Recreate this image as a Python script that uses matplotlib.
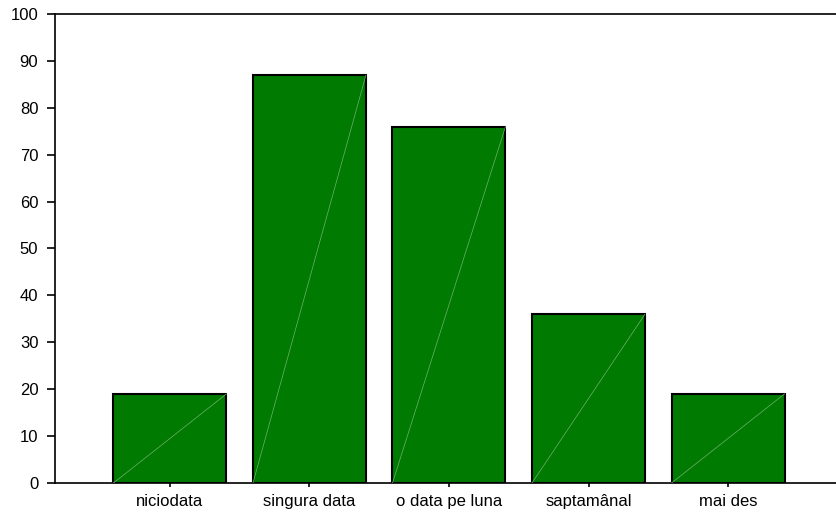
import matplotlib.pyplot as plt
import numpy as np

categories = ["niciodata", "singura data", "o data pe luna", "saptamânal", "mai des"]
values = [19, 87, 76, 36, 19]

plt.rcParams['font.family'] = ['Liberation Sans', 'DejaVu Sans']

fig = plt.figure(figsize=(8.36, 5.13), dpi=100)
ax = fig.add_axes([0.0658, 0.0585, 0.9342, 0.9142])

x = np.arange(len(categories))
width = 0.81
bars = ax.bar(x, values, width=width, color='#007a00', edgecolor='black', linewidth=1.5, zorder=2)

# faint diagonal inside each bar
for xi, v in zip(x, values):
    ax.plot([xi - width / 2, xi + width / 2], [0, v], color='#6fb26f', linewidth=0.5, zorder=3)

ax.set_xlim(-0.824, 4.774)
ax.set_ylim(0, 100)
ax.set_yticks(np.arange(0, 101, 10))
ax.set_xticks(x)
ax.set_xticklabels(categories)

ax.spines['right'].set_visible(False)
for s in ['left', 'bottom', 'top']:
    ax.spines[s].set_linewidth(1.2)
ax.tick_params(axis='y', direction='out', length=6, width=1.2, labelsize=12, pad=6)
ax.tick_params(axis='x', direction='out', length=3, width=1.2, labelsize=12, pad=5)

fig.savefig("out.png", dpi=100)
